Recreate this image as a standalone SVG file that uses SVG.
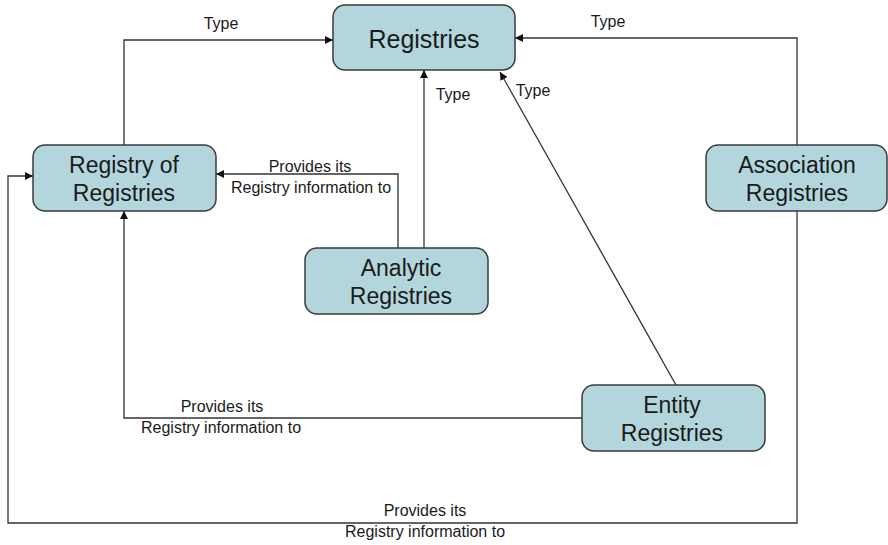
<svg xmlns="http://www.w3.org/2000/svg" width="888" height="545" viewBox="0 0 888 545">
  <style>
    .node rect { fill: #b3d6dd; stroke: #3a3a3a; stroke-width: 1.5; }
    .node text { font-family: "Liberation Sans", Arial, sans-serif; font-size: 23px; fill: #1a1a1a; text-anchor: middle; }
    .node text.big { font-size: 25px; }
    .edge { fill: none; stroke: #333; stroke-width: 1.3; }
    .lbl { font-family: "Liberation Sans", Arial, sans-serif; font-size: 16px; fill: #1a1a1a; text-anchor: middle; }
  </style>
  <defs>
    <marker id="arrow" viewBox="0 0 10 10" refX="10" refY="5" markerWidth="8" markerHeight="8" markerUnits="userSpaceOnUse" orient="auto">
      <path d="M0,0 L10,5 L0,10 z" fill="#111"/>
    </marker>
  </defs>
  <rect width="888" height="545" fill="#fff"/>

  <g id="connectors">
    <!-- Type links into Registries -->
    <polyline class="edge" points="124,145 124,40 333,40" marker-end="url(#arrow)"/>
    <polyline class="edge" points="797,145 797,38 515,38" marker-end="url(#arrow)"/>
    <line class="edge" x1="424" y1="248" x2="424" y2="70" marker-end="url(#arrow)"/>
    <line class="edge" x1="676" y1="385" x2="500" y2="72" marker-end="url(#arrow)"/>
    <!-- Provides-info links into Registry of Registries -->
    <polyline class="edge" points="398,248 398,174 216,174" marker-end="url(#arrow)"/>
    <polyline class="edge" points="582,418 124,418 124,211" marker-end="url(#arrow)"/>
    <polyline class="edge" points="797,211 797,523 8,523 8,176 33,176" marker-end="url(#arrow)"/>
  </g>

  <g id="labels">
    <text class="lbl" x="221" y="29">Type</text>
    <text class="lbl" x="608" y="27">Type</text>
    <text class="lbl" x="453" y="100">Type</text>
    <text class="lbl" x="533" y="96">Type</text>
    <text class="lbl" x="310" y="172">Provides its</text>
    <text class="lbl" x="311" y="193">Registry information to</text>
    <text class="lbl" x="222" y="412">Provides its</text>
    <text class="lbl" x="221" y="433">Registry information to</text>
    <text class="lbl" x="425" y="516">Provides its</text>
    <text class="lbl" x="425" y="537">Registry information to</text>
  </g>

  <g id="registries" class="node">
    <rect x="333" y="5" width="182" height="65" rx="12"/>
    <text class="big" x="424" y="48">Registries</text>
  </g>
  <g id="registry-of-registries" class="node">
    <rect x="33" y="145" width="183" height="66" rx="12"/>
    <text x="124" y="173">Registry of</text>
    <text x="124" y="201">Registries</text>
  </g>
  <g id="analytic-registries" class="node">
    <rect x="305" y="248" width="183" height="66" rx="12"/>
    <text x="401" y="276">Analytic</text>
    <text x="401" y="304">Registries</text>
  </g>
  <g id="association-registries" class="node">
    <rect x="706" y="145" width="181" height="66" rx="12"/>
    <text x="797" y="173">Association</text>
    <text x="797" y="201">Registries</text>
  </g>
  <g id="entity-registries" class="node">
    <rect x="582" y="385" width="183" height="66" rx="12"/>
    <text x="672" y="413">Entity</text>
    <text x="672" y="441">Registries</text>
  </g>
</svg>
